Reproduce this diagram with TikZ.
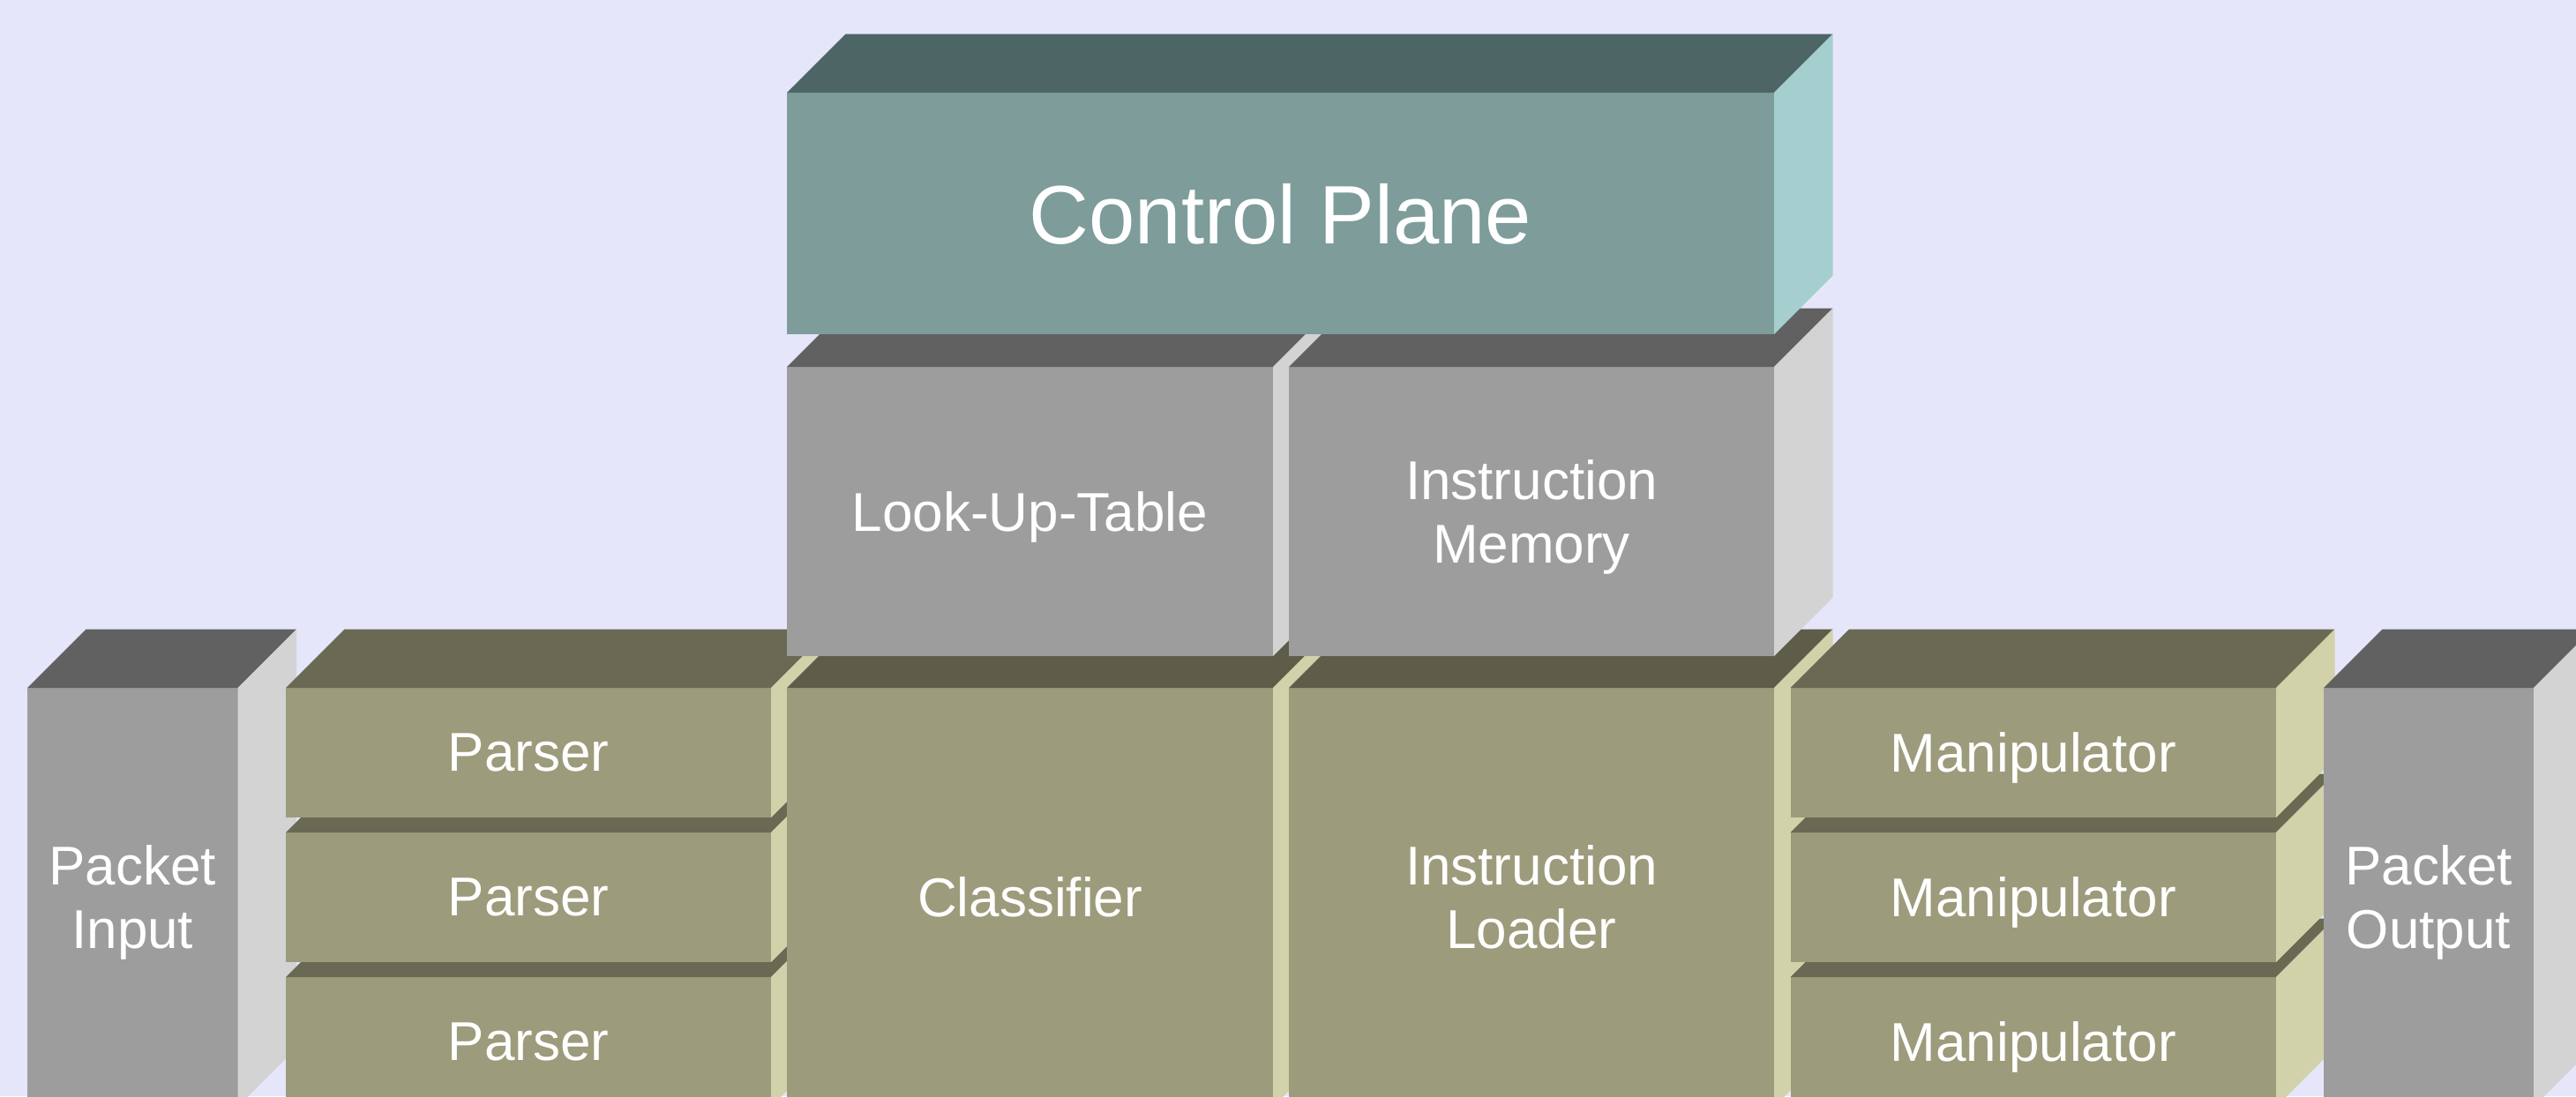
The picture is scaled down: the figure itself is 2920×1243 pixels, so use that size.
\documentclass[tikz,border=0pt]{standalone}
\usepackage{fontspec}
\setmainfont{Liberation Sans}

\definecolor{page}{HTML}{E6E6FA}
\definecolor{tealfront}{HTML}{7D9C9A}
\definecolor{tealtop}{HTML}{4D6565}
\definecolor{tealside}{HTML}{A5CFCF}
\definecolor{greyfront}{HTML}{9D9D9D}
\definecolor{greytop}{HTML}{616161}
\definecolor{greyside}{HTML}{D3D3D3}
\definecolor{olivefront}{HTML}{9C9B7B}
\definecolor{olivetop}{HTML}{6A6954}
\definecolor{oliveshade}{HTML}{5E5D49}
\definecolor{oliveside}{HTML}{D1D2A9}

% depth of the oblique top and side faces
\newcommand\blockdepth{66.5}
% top and right faces of a block whose front face is the node #1
\newcommand\blockfaces[3]{%
  \fill[#2] (#1.north west) -- (#1.north east) -- ++(\blockdepth,-\blockdepth)
    -- ([shift={(\blockdepth,-\blockdepth)}]#1.north west) -- cycle;
  \fill[#3] (#1.north east) -- ++(\blockdepth,-\blockdepth)
    -- ([shift={(\blockdepth,-\blockdepth)}]#1.south east) -- (#1.south east) -- cycle;}

\begin{document}
\begin{tikzpicture}[x=1pt,y=-1pt,
  front/.style={inner sep=0pt, outer sep=0pt, text=white, align=center,
    text depth=0pt, font=\fontsize{62}{72}\selectfont},
  olivebox/.style={front, fill=olivefront},
  greybox/.style={front, fill=greyfront},
  tealbox/.style={front, fill=tealfront, font=\fontsize{94}{110}\selectfont}]

\fill[page] (0,0) rectangle (2920,1243);
\useasboundingbox (0,0) rectangle (2920,1243);
\clip (0,0) rectangle (2920,1243);

% packet input
\node[greybox, minimum width=238.5pt, minimum height=475pt] (pin) at (150.25,1017.5) {Packet\\Input};
\blockfaces{pin}{greytop}{greyside}

% parser stack, lowest first
\node[olivebox, minimum width=550pt, minimum height=147pt] (parserC) at (599,1181.5) {Parser};
\blockfaces{parserC}{olivetop}{oliveside}
\node[olivebox, minimum width=550pt, minimum height=147pt] (parserB) at (599,1017.5) {Parser};
\blockfaces{parserB}{olivetop}{oliveside}
\node[olivebox, minimum width=550pt, minimum height=147pt] (parserA) at (599,853.5) {Parser};
\blockfaces{parserA}{olivetop}{oliveside}

% classifier and instruction loader
\node[olivebox, minimum width=551pt, minimum height=475pt] (cls) at (1167.5,1017.5) {Classifier};
\blockfaces{cls}{oliveshade}{oliveside}
\node[olivebox, minimum width=550pt, minimum height=475pt] (ldr) at (1736,1017.5) {Instruction\\Loader};
\blockfaces{ldr}{oliveshade}{oliveside}

% manipulator stack, lowest first
\node[olivebox, minimum width=550.5pt, minimum height=147pt] (manC) at (2304.75,1181.5) {Manipulator};
\blockfaces{manC}{olivetop}{oliveside}
\node[olivebox, minimum width=550.5pt, minimum height=147pt] (manB) at (2304.75,1017.5) {Manipulator};
\blockfaces{manB}{olivetop}{oliveside}
\node[olivebox, minimum width=550.5pt, minimum height=147pt] (manA) at (2304.75,853.5) {Manipulator};
\blockfaces{manA}{olivetop}{oliveside}

% packet output
\node[greybox, minimum width=238pt, minimum height=475pt] (pout) at (2753,1017.5) {Packet\\Output};
\blockfaces{pout}{greytop}{greyside}

% memories
\node[greybox, minimum width=551pt, minimum height=328pt] (lut) at (1167.5,580) {Look-Up-Table};
\blockfaces{lut}{greytop}{greyside}
\node[greybox, minimum width=550pt, minimum height=328pt] (imem) at (1736,580) {Instruction\\Memory};
\blockfaces{imem}{greytop}{greyside}

% control plane
\node[tealbox, minimum width=1119pt, minimum height=274pt] (cp) at (1451.5,242) {Control Plane};
\blockfaces{cp}{tealtop}{tealside}
\end{tikzpicture}
\end{document}
